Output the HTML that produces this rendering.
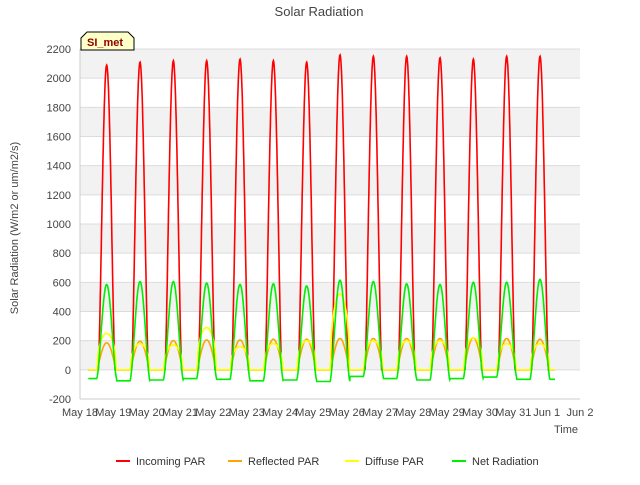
<!DOCTYPE html>
<html><head><meta charset="utf-8"><style>
body{margin:0;background:#fff;font-family:"Liberation Sans",sans-serif;}
</style></head><body>
<svg id="c" width="640" height="480" xmlns="http://www.w3.org/2000/svg" font-family="Liberation Sans, sans-serif">
<text x="319" y="16" text-anchor="middle" font-size="13" fill="#444">Solar Radiation</text>
<g id="grid"></g>
<g id="series"></g>
<g id="axes"></g>
<text x="566" y="433" text-anchor="middle" font-size="11" fill="#444">Time</text>
<text transform="translate(18,228) rotate(-90)" text-anchor="middle" font-size="11" fill="#444">Solar Radiation (W/m2 or um/m2/s)</text>
<g>
<path d="M81,50 L81,38 L87,32 L128,32 L134,38 L134,50 Z" fill="#ffffc8" stroke="#000" stroke-width="1"/>
<text x="87" y="46" font-size="11" font-weight="bold" fill="#8b0000">SI_met</text>
</g>
<g id="legend"></g>
</svg>
<script>
const days=["May 18","May 19","May 20","May 21","May 22","May 23","May 24","May 25","May 26","May 27","May 28","May 29","May 30","May 31","Jun 1","Jun 2"];
const yTicks=[-200,0,200,400,600,800,1000,1200,1400,1600,1800,2000,2200];
const incomingPeaks=[2090,2110,2120,2120,2130,2120,2110,2160,2150,2150,2140,2130,2150,2150];
const reflectedPeaks=[185,195,200,205,205,210,210,215,215,215,215,220,215,210];
const diffusePeaks=[250,180,170,290,160,180,200,520,200,200,200,220,180,180];
const netPeaks=[585,605,605,595,585,590,575,615,605,590,585,600,600,620];
const netNight=[-60,-75,-70,-60,-65,-75,-70,-80,-45,-60,-70,-60,-50,-65];
const NS='http://www.w3.org/2000/svg';
const X0=80,X1=580,Y0=399,Y1=49;
const xs=d=>X0+(X1-X0)*d/15;
const ys=v=>Y0+(Y1-Y0)*(v+200)/2400;
function mk(tag,attrs,parent){const e=document.createElementNS(NS,tag);for(const k in attrs)e.setAttribute(k,attrs[k]);parent.appendChild(e);return e;}
const grid=document.getElementById('grid'),axes=document.getElementById('axes'),ser=document.getElementById('series');
for(let i=0;i<yTicks.length-1;i++){
  if(yTicks[i]>=0 && (yTicks[i]/200)%2===0){
    const r=mk('rect',{x:X0,y:ys(yTicks[i+1]),width:X1-X0,height:ys(yTicks[i])-ys(yTicks[i+1]),fill:'#f2f2f2'},grid);
    
    
  }
}
yTicks.forEach(v=>{
  const l=mk('line',{x1:X0,x2:X1,y1:ys(v),y2:ys(v),stroke:'#dcdcdc','stroke-width':1},grid);
  
  
  const t=mk('text',{x:X0-9,y:ys(v)+4,'text-anchor':'end','font-size':11,fill:'#444'},axes);
  t.textContent=v;
  
  
});
mk('line',{x1:X0,x2:X0,y1:Y1,y2:Y0,stroke:'#ccc'},axes);
mk('line',{x1:X0,x2:X1,y1:Y0,y2:Y0,stroke:'#ccc'},axes);
days.forEach((d,i)=>{
  const t=mk('text',{x:xs(i),y:416,'text-anchor':'middle','font-size':11,fill:'#444'},axes);
  t.textContent=d;
  
  
});
function prof(f,a,b){if(f<a||f>b)return 0;return Math.sin(Math.PI*(f-a)/(b-a));}
function build(peaks,kind){
  const pts=[];
  for(let i=0;i<peaks.length;i++){
    for(let s=0;s<=96;s++){
      const t=0.25+i+s/96;
      if(t>14.25)break;
      const f=t-i;
      let v;
      if(kind==='in') v=peaks[i]*Math.pow(prof(f,0.55,1.05),1.4);
      else if(kind==='ref') v=peaks[i]*prof(f,0.52,1.08);
      else if(kind==='dif') v=peaks[i]*Math.pow(prof(f,0.52,1.08),0.4);
      else {const p=prof(f,0.5,1.1);v=p>0?netNight[i]+(peaks[i]-netNight[i])*Math.pow(p,1.6):netNight[Math.min(i+(f>1?1:0),13)];}
      pts.push(xs(t).toFixed(1)+','+ys(v).toFixed(1));
    }
  }
  return pts.join(' ');
}
const specs=[['dif',diffusePeaks,'#ffff00','diffuse-par-line'],['ref',reflectedPeaks,'#ffa500','reflected-par-line'],['in',incomingPeaks,'#ff0000','incoming-par-line'],['net',netPeaks,'#00ee00','net-radiation-line']];
[specs[2],specs[1],specs[0],specs[3]].forEach(s=>{
  const p=mk('polyline',{points:build(s[1],s[0]),fill:'none',stroke:s[2],'stroke-width':1.6},ser);
  
  
});
const leg=document.getElementById('legend');
const items=[['Incoming PAR','#ff0000',116],['Reflected PAR','#ffa500',228],['Diffuse PAR','#ffff00',345],['Net Radiation','#00ee00',452]];
items.forEach(it=>{
  const g=mk('g',{},leg);
  
  
  mk('line',{x1:it[2],x2:it[2]+14,y1:461,y2:461,stroke:it[1],'stroke-width':2},g);
  const t=mk('text',{x:it[2]+20,y:465,'font-size':11,fill:'#333'},g);t.textContent=it[0];
});
</script>
</body></html>
